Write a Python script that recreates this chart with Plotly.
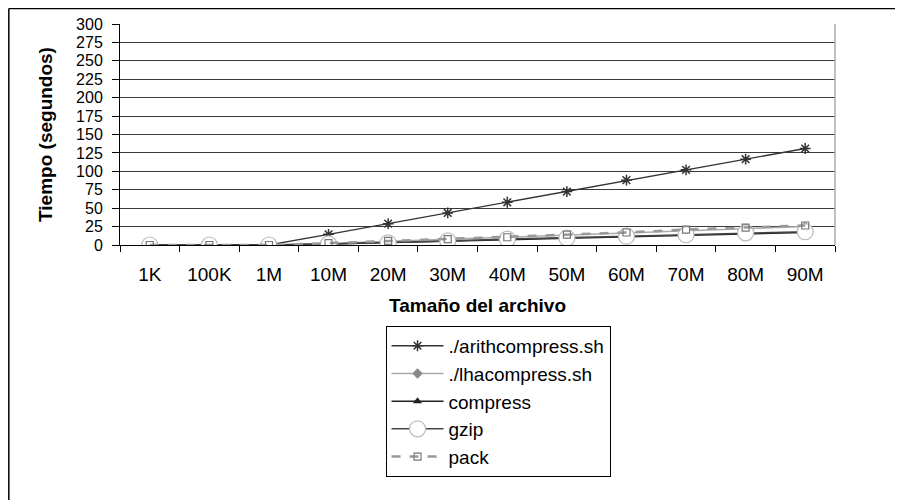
import plotly.graph_objects as go

categories = ["1K", "100K", "1M", "10M", "20M", "30M", "40M", "50M", "60M", "70M", "80M", "90M"]
arith = [0, 0, 0, 14.5, 29, 43.5, 58, 72.5, 88, 102, 116.5, 131]
lha = [0, 0, 0, 2, 5, 7.5, 10, 13, 16, 19.5, 22, 25]
compress = [0, 0, 0, 1.5, 3, 5, 7, 9, 11, 13, 15.5, 17]
gzip = [0, 0, 0, 1.5, 3, 5.5, 8, 9.5, 12, 14, 16.5, 18]
pack = [0, 0, 0, 2.5, 5.5, 8, 10.5, 14, 17, 21, 23.5, 26.5]
y_ticks = [0, 25, 50, 75, 100, 125, 150, 175, 200, 225, 250, 275, 300]

FONT = "Liberation Sans, Arial, sans-serif"

fig = go.Figure()
fig.add_trace(go.Scatter(x=categories, y=arith, name="./arithcompress.sh", mode="lines+markers",
                         line=dict(color="#333333", width=1.3),
                         marker=dict(symbol="asterisk-open", size=9, color="#333333",
                                     line=dict(color="#333333", width=1.5))))
fig.add_trace(go.Scatter(x=categories, y=lha, name="./lhacompress.sh", mode="lines+markers",
                         line=dict(color="#aaaaaa", width=1.5),
                         marker=dict(symbol="diamond", size=8, color="#888888")))
fig.add_trace(go.Scatter(x=categories, y=compress, name="compress", mode="lines+markers",
                         line=dict(color="#222222", width=1.5),
                         marker=dict(symbol="triangle-up", size=8, color="#222222")))
fig.add_trace(go.Scatter(x=categories, y=gzip, name="gzip", mode="lines+markers",
                         line=dict(color="#444444", width=1.5),
                         marker=dict(symbol="circle", size=16, color="white",
                                     line=dict(color="#bbbbbb", width=1.2))))
fig.add_trace(go.Scatter(x=categories, y=pack, name="pack", mode="lines+markers",
                         line=dict(color="#999999", width=2.5, dash="dash"),
                         marker=dict(symbol="square-open", size=7, color="#777777",
                                     line=dict(color="#777777", width=1.2))))

fig.update_layout(
    width=895, height=492,
    margin=dict(l=112, r=68, t=16, b=255),
    paper_bgcolor="white", plot_bgcolor="white",
    font=dict(family=FONT, size=19, color="black"),
    showlegend=True,
    legend=dict(x=0.5287, xanchor="center", y=-0.366, yanchor="top",
                bordercolor="black", borderwidth=1, bgcolor="white",
                font=dict(family=FONT, size=19, color="black"),
                tracegroupgap=0, itemwidth=52),
    xaxis=dict(
        type="category", categoryorder="array", categoryarray=categories,
        range=[-0.5, 11.5], automargin=False,
        showline=True, linecolor="black", linewidth=1,
        ticks="outside", ticklen=6, tickcolor="black", tickson="boundaries",
        showgrid=False, mirror=False,
        tickfont=dict(family=FONT, size=19),
        ticklabelstandoff=12,
        title=dict(text="<b>Tamaño del archivo</b>", font=dict(family=FONT, size=19), standoff=14),
    ),
    yaxis=dict(
        range=[0, 300], tickvals=y_ticks, automargin=False,
        showline=True, linecolor="black", linewidth=1,
        ticks="outside", ticklen=7, tickcolor="black",
        showgrid=True, gridcolor="#3a3a3a", gridwidth=1,
        zeroline=False,
        tickfont=dict(family=FONT, size=16),
        ticklabelstandoff=6,
        title=dict(text="<b>Tiempo (segundos)</b>", font=dict(family=FONT, size=19), standoff=18),
    ),
    shapes=[
        dict(type="line", xref="paper", yref="paper", x0=1, x1=1, y0=0, y1=1,
             line=dict(color="#aaaaaa", width=1.5)),
        dict(type="line", xref="paper", yref="paper", x0=-0.1555, x1=-0.1555, y0=1.07, y1=-1.2,
             line=dict(color="black", width=1.5)),
        dict(type="line", xref="paper", yref="paper", x0=-0.1555, x1=1.2, y0=1.07, y1=1.07,
             line=dict(color="black", width=1.5)),
    ],
)

fig.write_html("out.html")
